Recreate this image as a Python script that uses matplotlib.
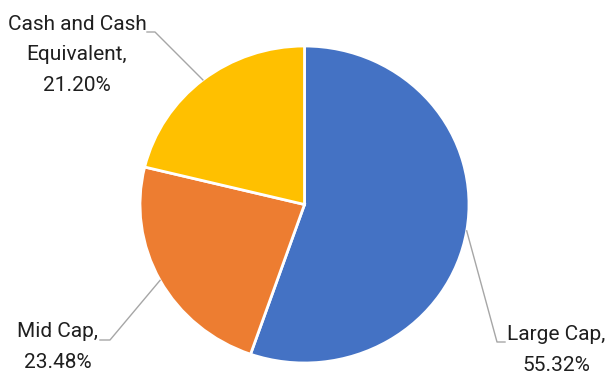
import numpy as np
import matplotlib.pyplot as plt

# data
labels = ['Large Cap', 'Mid Cap', 'Cash and Cash\nEquivalent']
values = [55.32, 23.48, 21.20]
colors = ['#4472C4', '#ED7D31', '#FFC000']

# pie geometry in pixels (figure is 606x375)
W, H = 606, 375
cx, cy = 304.5, 204.5
rx, ry = 164.5, 158.5


def px(x, y):
    # pixel -> data coords (pie radius 1)
    return (x - cx) / rx, (cy - y) / ry


fig = plt.figure(figsize=(W / 100, H / 100), dpi=100)
ax = fig.add_axes([0, 0, 1, 1])
wedges, _ = ax.pie(values, colors=colors, startangle=90, counterclock=False,
                   wedgeprops=dict(edgecolor='white', linewidth=2))
ax.set_aspect('auto')
x0, y0 = px(0, H)
x1, y1 = px(W, 0)
ax.set_xlim(x0, x1)
ax.set_ylim(y0, y1)
ax.axis('off')

# label text positions and leader elbows (pixels)
text_pos = [(556, 350), (58, 347), (77, 55)]
elbows = [[(497, 342), (505, 342)],
          [(110, 340), (100, 340)],
          [(155, 32), (147, 32)]]

for w, lab, v, tp, el in zip(wedges, labels, values, text_pos, elbows):
    ang = np.deg2rad((w.theta1 + w.theta2) / 2)
    xs = [np.cos(ang)] + [px(*p)[0] for p in el]
    ys = [np.sin(ang)] + [px(*p)[1] for p in el]
    ax.plot(xs, ys, color='#A6A6A6', lw=1)
    tx, ty = px(*tp)
    ax.text(tx, ty, f'{lab},\n{v:.2f}%', ha='center', va='center',
            multialignment='center', fontsize=15, color='#1F1F1F',
            family='Roboto', linespacing=1.75)

fig.savefig('out.png', dpi=100, facecolor='white')
